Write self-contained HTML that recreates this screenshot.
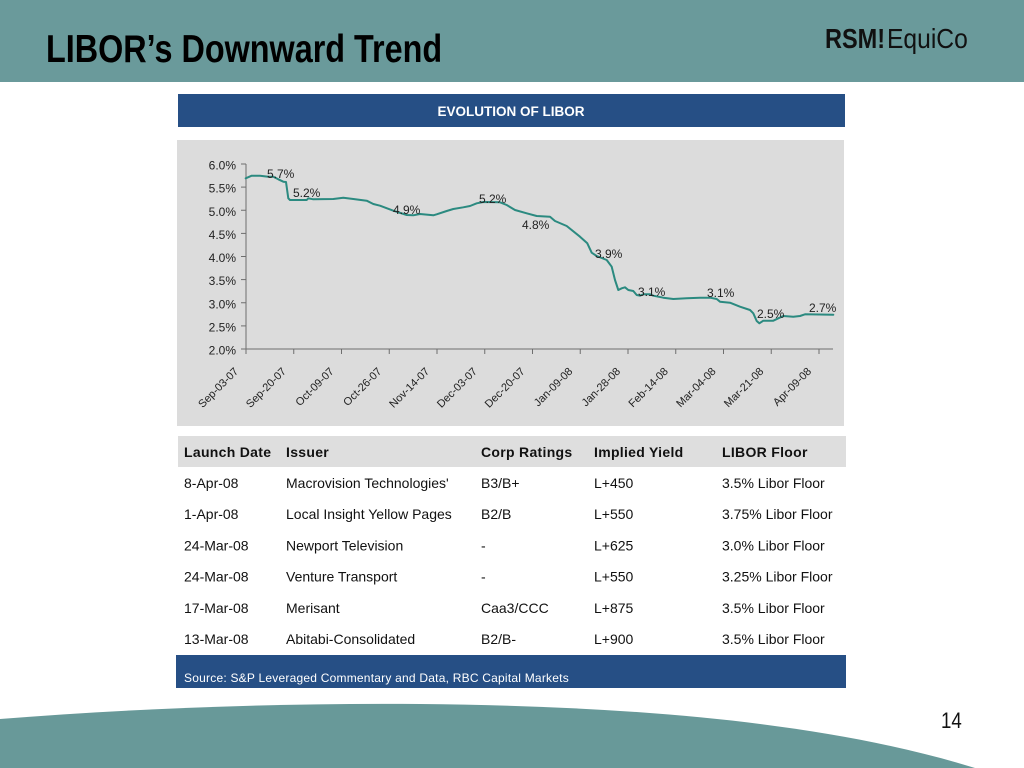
<!DOCTYPE html>
<html>
<head>
<meta charset="utf-8">
<style>
  html, body { margin: 0; padding: 0; background: #ffffff; }
  body { width: 1024px; height: 768px; overflow: hidden; }
  svg { display: block; }
  text { font-family: "Liberation Sans", Arial, sans-serif; }
</style>
</head>
<body>
<svg width="1024" height="768" viewBox="0 0 1024 768" xmlns="http://www.w3.org/2000/svg">
  <!-- header band -->
  <rect x="0" y="0" width="1024" height="82" fill="#6a9a9b"/>
  <text transform="translate(46,62) scale(0.83,1)" font-size="39" font-weight="bold" fill="#000">LIBOR’s Downward Trend</text>
  <text transform="translate(825,48) scale(0.84,1)" font-size="28" font-weight="bold" fill="#111">RSM!</text>
  <text transform="translate(887,48) scale(0.88,1)" font-size="28" fill="#111">EquiCo</text>

  <!-- chart title box -->
  <rect x="178" y="94" width="667" height="33" fill="#264f85"/>
  <text x="511" y="116" font-size="13.5" font-weight="bold" fill="#ffffff" text-anchor="middle">EVOLUTION OF LIBOR</text>

  <!-- chart background -->
  <rect x="177" y="140" width="667" height="286" fill="#dcdcdc"/>

  <!-- axes -->
  <g stroke="#6e6e6e" stroke-width="1" fill="none">
    <line x1="246" y1="164" x2="246" y2="349"/>
    <line x1="246" y1="349" x2="833" y2="349"/>
    <line x1="241" y1="164" x2="246" y2="164"/>
    <line x1="241" y1="187.1" x2="246" y2="187.1"/>
    <line x1="241" y1="210.25" x2="246" y2="210.25"/>
    <line x1="241" y1="233.4" x2="246" y2="233.4"/>
    <line x1="241" y1="256.5" x2="246" y2="256.5"/>
    <line x1="241" y1="279.6" x2="246" y2="279.6"/>
    <line x1="241" y1="302.75" x2="246" y2="302.75"/>
    <line x1="241" y1="325.9" x2="246" y2="325.9"/>
    <line x1="241" y1="349" x2="246" y2="349"/>
    <line x1="246" y1="349" x2="246" y2="354"/>
    <line x1="293.75" y1="349" x2="293.75" y2="354"/>
    <line x1="341.5" y1="349" x2="341.5" y2="354"/>
    <line x1="389.25" y1="349" x2="389.25" y2="354"/>
    <line x1="437" y1="349" x2="437" y2="354"/>
    <line x1="484.75" y1="349" x2="484.75" y2="354"/>
    <line x1="532.5" y1="349" x2="532.5" y2="354"/>
    <line x1="580.25" y1="349" x2="580.25" y2="354"/>
    <line x1="628" y1="349" x2="628" y2="354"/>
    <line x1="675.75" y1="349" x2="675.75" y2="354"/>
    <line x1="723.5" y1="349" x2="723.5" y2="354"/>
    <line x1="771.25" y1="349" x2="771.25" y2="354"/>
    <line x1="819" y1="349" x2="819" y2="354"/>
  </g>

  <!-- y labels -->
  <g font-size="12" fill="#222" text-anchor="end">
    <text x="236" y="169.5">6.0%</text>
    <text x="236" y="192.6">5.5%</text>
    <text x="236" y="215.75">5.0%</text>
    <text x="236" y="238.9">4.5%</text>
    <text x="236" y="262">4.0%</text>
    <text x="236" y="285.1">3.5%</text>
    <text x="236" y="308.25">3.0%</text>
    <text x="236" y="331.4">2.5%</text>
    <text x="236" y="354.5">2.0%</text>
  </g>

  <!-- x labels -->
  <g font-size="11" fill="#222" text-anchor="end">
    <text x="239" y="372" transform="rotate(-45 239 372)">Sep-03-07</text>
    <text x="286.75" y="372" transform="rotate(-45 286.75 372)">Sep-20-07</text>
    <text x="334.5" y="372" transform="rotate(-45 334.5 372)">Oct-09-07</text>
    <text x="382.25" y="372" transform="rotate(-45 382.25 372)">Oct-26-07</text>
    <text x="430" y="372" transform="rotate(-45 430 372)">Nov-14-07</text>
    <text x="477.75" y="372" transform="rotate(-45 477.75 372)">Dec-03-07</text>
    <text x="525.5" y="372" transform="rotate(-45 525.5 372)">Dec-20-07</text>
    <text x="573.25" y="372" transform="rotate(-45 573.25 372)">Jan-09-08</text>
    <text x="621" y="372" transform="rotate(-45 621 372)">Jan-28-08</text>
    <text x="668.75" y="372" transform="rotate(-45 668.75 372)">Feb-14-08</text>
    <text x="716.5" y="372" transform="rotate(-45 716.5 372)">Mar-04-08</text>
    <text x="764.25" y="372" transform="rotate(-45 764.25 372)">Mar-21-08</text>
    <text x="812" y="372" transform="rotate(-45 812 372)">Apr-09-08</text>
  </g>

  <!-- series -->
  <polyline fill="none" stroke="#2b8a80" stroke-width="2" stroke-linejoin="round" stroke-linecap="round"
    points="245.7,178.3 251.7,175.7 260,175.7 268.3,176.7 273.3,176.7 278.3,179.3 283.3,181.7 286,182 288.3,198.3 290,200 306.7,200 308.3,198.3 313.3,199.3 333.3,199 343.3,197.7 353.3,199 366.7,200.7 373.3,204 380,205.7 393.3,210.7 406.7,215 413.3,215.3 420,214 433.3,215.3 436.7,214.3 446.7,211 453.3,209 463.3,207.3 470,206 476.7,203.3 483.3,202 500,202.3 506.7,205 515,210 526.7,213.3 536.7,216 550,216.7 555,221 566.7,226 580,236.7 587.3,243.3 591.7,252.7 596.7,256 606.7,260 611.7,266.7 615,280 618.3,290 621.7,288.3 625,287.3 628.3,290 633.3,291 636.7,295 640,295.7 643.3,294.3 650,294.3 653.3,295.7 663.3,297.7 673.3,299 686.7,298.3 700,297.7 710,297.7 716.7,299 720,301.7 730,302.7 740,306.7 750,310 753.3,313.3 756.7,321 759.3,323.3 763.3,320.7 773.3,320.7 778.3,318.3 783.3,316 793.3,316.7 800,316 805,314.3 833.3,314.7"/>

  <!-- data labels -->
  <g font-size="12" fill="#222">
    <text x="267" y="178">5.7%</text>
    <text x="293" y="197">5.2%</text>
    <text x="393" y="214">4.9%</text>
    <text x="479" y="203">5.2%</text>
    <text x="522" y="229">4.8%</text>
    <text x="595" y="258">3.9%</text>
    <text x="638" y="296">3.1%</text>
    <text x="707" y="297">3.1%</text>
    <text x="757" y="318">2.5%</text>
    <text x="809" y="312">2.7%</text>
  </g>

  <!-- table header -->
  <rect x="178" y="436" width="668" height="31" fill="#dedede"/>
  <g font-size="14" font-weight="bold" fill="#111" letter-spacing="0.3">
    <text x="184" y="457">Launch Date</text>
    <text x="286" y="457">Issuer</text>
    <text x="481" y="457">Corp Ratings</text>
    <text x="594" y="457">Implied Yield</text>
    <text x="722" y="457">LIBOR Floor</text>
  </g>

  <!-- table rows -->
  <g font-size="14" fill="#111">
    <text x="184" y="488">8-Apr-08</text>
    <text x="286" y="488">Macrovision Technologies'</text>
    <text x="481" y="488">B3/B+</text>
    <text x="594" y="488">L+450</text>
    <text x="722" y="488">3.5% Libor Floor</text>

    <text x="184" y="519.2">1-Apr-08</text>
    <text x="286" y="519.2">Local Insight Yellow Pages</text>
    <text x="481" y="519.2">B2/B</text>
    <text x="594" y="519.2">L+550</text>
    <text x="722" y="519.2">3.75% Libor Floor</text>

    <text x="184" y="550.4">24-Mar-08</text>
    <text x="286" y="550.4">Newport Television</text>
    <text x="481" y="550.4">-</text>
    <text x="594" y="550.4">L+625</text>
    <text x="722" y="550.4">3.0% Libor Floor</text>

    <text x="184" y="581.6">24-Mar-08</text>
    <text x="286" y="581.6">Venture Transport</text>
    <text x="481" y="581.6">-</text>
    <text x="594" y="581.6">L+550</text>
    <text x="722" y="581.6">3.25% Libor Floor</text>

    <text x="184" y="612.8">17-Mar-08</text>
    <text x="286" y="612.8">Merisant</text>
    <text x="481" y="612.8">Caa3/CCC</text>
    <text x="594" y="612.8">L+875</text>
    <text x="722" y="612.8">3.5% Libor Floor</text>

    <text x="184" y="644">13-Mar-08</text>
    <text x="286" y="644">Abitabi-Consolidated</text>
    <text x="481" y="644">B2/B-</text>
    <text x="594" y="644">L+900</text>
    <text x="722" y="644">3.5% Libor Floor</text>
  </g>

  <!-- source bar -->
  <rect x="176" y="655" width="670" height="33" fill="#264f85"/>
  <text x="184" y="682" font-size="12" fill="#ffffff" letter-spacing="0.22">Source: S&amp;P Leveraged Commentary and Data, RBC Capital Markets</text>

  <!-- bottom decorative shape -->
  <path d="M0,719 C140,708 280,703 420,704 C620,706 820,720 975,768 L0,768 Z" fill="#689999"/>

  <!-- page number -->
  <text transform="translate(941,728) scale(0.85,1)" font-size="22" fill="#111">14</text>
</svg>
</body>
</html>
